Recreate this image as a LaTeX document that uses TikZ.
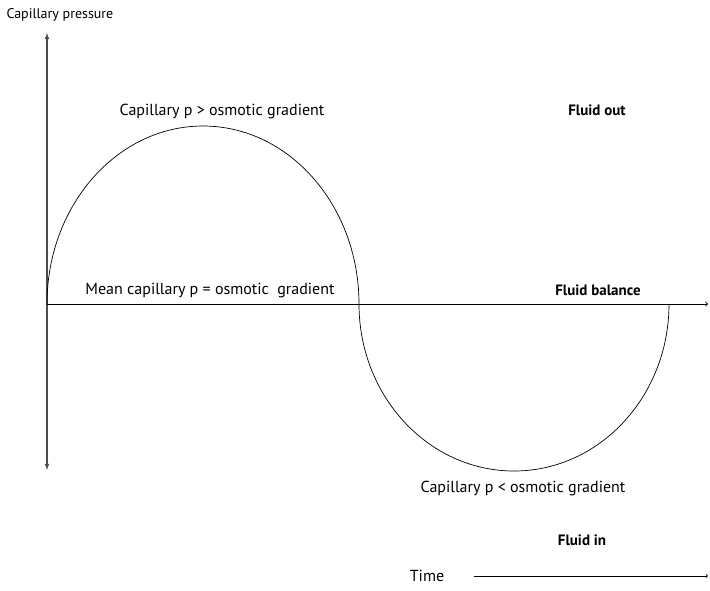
\documentclass[tikz,border=0pt]{standalone}
\usepackage{fontspec}
\setmainfont{PT Sans}
\usepackage{tikz}
\usetikzlibrary{arrows, positioning}

\begin{document}
\begin{tikzpicture}[x=1pt, y=-1pt, font=\fontsize{16}{18}\selectfont]
        \useasboundingbox (0,0) rectangle (710,590);
        % Axes
        \coordinate (origin) at (47,304);
        \coordinate (top) at (47,33);
        \coordinate (bottom) at (47,470);
        \coordinate (right) at (708,304);
        \draw[-latex, gray!60!black, line width=1.1pt] (origin) -- (top);
        \draw[-latex, gray!60!black, line width=1.1pt] (origin) -- (bottom);
        \draw[->, line width=0.9pt] (origin) -- (right);
        \node[anchor=west, font=\fontsize{14}{16}\selectfont] (pressure) at (3,15) {Capillary pressure};
        
        % Curve
        \draw[line width=0.7pt] (origin) arc[start angle=180, end angle=360, x radius=156, y radius=178]
            arc[start angle=180, end angle=0, x radius=155, y radius=167];
        
        % Labels
        \node (above) at (222,111) {Capillary p > osmotic gradient};
        \node (mean) at (210,291) {Mean capillary p = osmotic\ \ gradient};
        \node (below) at (523,488) {Capillary p < osmotic gradient};
        \node[font=\fontsize{15}{17}\selectfont\bfseries] (out) at (597,110) {Fluid out};
        \node[font=\fontsize{15}{17}\selectfont\bfseries] (balance) at (598,290) {Fluid balance};
        \node[font=\fontsize{15}{17}\selectfont\bfseries] (in) at (582,540) {Fluid in};
        
        % Time
        \node (time) at (427,576) {Time};
        \coordinate (timeend) at (708,576);
        \draw[->, line width=0.7pt] ([xshift=26pt]time.east) -- (timeend);
        
    \end{tikzpicture}
\end{document}
